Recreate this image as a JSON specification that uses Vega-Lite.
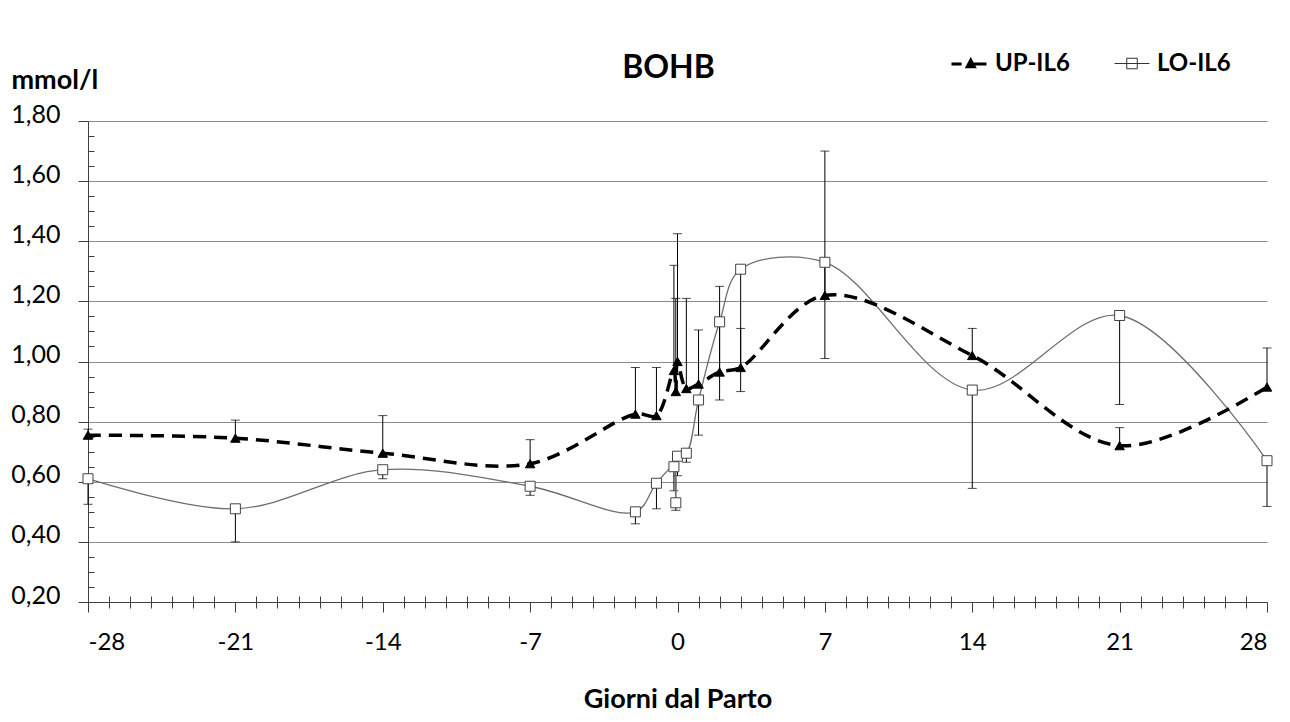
{
  "$schema": "https://vega.github.io/schema/vega-lite/v6.json",
  "width": 1179,
  "height": 481,
  "autosize": {"type": "none"},
  "padding": {"left": 88, "top": 121, "right": 23, "bottom": 120},
  "background": "white",
  "config": {
    "view": {"stroke": null},
    "font": "Lato",
    "axis": {"labelFont": "Lato", "titleFont": "Lato"}
  },
  "datasets": {
    "bohb": [
      {"series": "UP-IL6", "day": -28, "value": 0.755, "bar": 0.775},
      {"series": "UP-IL6", "day": -21, "value": 0.745, "bar": 0.805},
      {"series": "UP-IL6", "day": -14, "value": 0.695, "bar": 0.82},
      {"series": "UP-IL6", "day": -7, "value": 0.66, "bar": 0.74},
      {"series": "UP-IL6", "day": -2, "value": 0.825, "bar": 0.98},
      {"series": "UP-IL6", "day": -1, "value": 0.82, "bar": 0.98},
      {"series": "UP-IL6", "day": -0.17, "value": 0.97, "bar": 1.32},
      {"series": "UP-IL6", "day": -0.08, "value": 0.9, "bar": 1.21},
      {"series": "UP-IL6", "day": 0, "value": 1.0, "bar": 1.425},
      {"series": "UP-IL6", "day": 0.42, "value": 0.91, "bar": 1.21},
      {"series": "UP-IL6", "day": 1, "value": 0.925, "bar": 1.105},
      {"series": "UP-IL6", "day": 2, "value": 0.965, "bar": 1.25},
      {"series": "UP-IL6", "day": 3, "value": 0.98, "bar": 1.11},
      {"series": "UP-IL6", "day": 7, "value": 1.22, "bar": 1.7},
      {"series": "UP-IL6", "day": 14, "value": 1.02, "bar": 1.11},
      {"series": "UP-IL6", "day": 21, "value": 0.72, "bar": 0.78},
      {"series": "UP-IL6", "day": 28, "value": 0.915, "bar": 1.045},
      {"series": "LO-IL6", "day": -28, "value": 0.61, "bar": 0.525},
      {"series": "LO-IL6", "day": -21, "value": 0.51, "bar": 0.4},
      {"series": "LO-IL6", "day": -14, "value": 0.64, "bar": 0.61},
      {"series": "LO-IL6", "day": -7, "value": 0.585, "bar": 0.555},
      {"series": "LO-IL6", "day": -2, "value": 0.5, "bar": 0.46},
      {"series": "LO-IL6", "day": -1, "value": 0.595, "bar": 0.51},
      {"series": "LO-IL6", "day": -0.17, "value": 0.65, "bar": 0.57},
      {"series": "LO-IL6", "day": -0.08, "value": 0.53, "bar": 0.505},
      {"series": "LO-IL6", "day": 0, "value": 0.685, "bar": 0.62},
      {"series": "LO-IL6", "day": 0.42, "value": 0.695, "bar": 0.665},
      {"series": "LO-IL6", "day": 1, "value": 0.872, "bar": 0.755},
      {"series": "LO-IL6", "day": 2, "value": 1.132, "bar": 0.872},
      {"series": "LO-IL6", "day": 3, "value": 1.307, "bar": 0.9},
      {"series": "LO-IL6", "day": 7, "value": 1.33, "bar": 1.01},
      {"series": "LO-IL6", "day": 14, "value": 0.905, "bar": 0.578},
      {"series": "LO-IL6", "day": 21, "value": 1.153, "bar": 0.857},
      {"series": "LO-IL6", "day": 28, "value": 0.67, "bar": 0.518}
    ]
  },
  "data": {"name": "bohb"},
  "resolve": {"axis": {"x": "independent", "y": "independent"}},
  "layer": [
    {
      "transform": [{"filter": "datum.series === 'UP-IL6'"}],
      "mark": {"type": "rule", "color": "black", "strokeWidth": 1},
      "encoding": {
        "x": {
          "field": "day", "type": "quantitative",
          "scale": {"domain": [-28, 28], "nice": false, "zero": false},
          "axis": {
            "orient": "bottom",
            "values": [-28, -21, -14, -7, 0, 7, 14, 21, 28],
            "grid": false,
            "domainColor": "#404040",
            "tickColor": "#404040",
            "tickSize": 10,
            "labelFontSize": 24,
            "labelColor": "black",
            "labelPadding": 18,
            "labelExpr": "'' + datum.value",
            "title": "Giorni dal Parto",
            "titleFontSize": 27,
            "titleFontWeight": "bold",
            "titleColor": "black",
            "titlePadding": 32
          }
        },
        "y": {
          "field": "value", "type": "quantitative",
          "scale": {"domain": [0.2, 1.8], "nice": false, "zero": false},
          "axis": {
            "orient": "left",
            "values": [0.2, 0.4, 0.6, 0.8, 1.0, 1.2, 1.4, 1.6, 1.8],
            "grid": true,
            "gridColor": "#8c8c8c",
            "gridOpacity": 1,
            "domainColor": "#404040",
            "tickColor": "#404040",
            "tickSize": 10,
            "labelFontSize": 25,
            "labelColor": "black",
            "labelPadding": 18,
            "labelOffset": -7,
            "labelExpr": "replace(format(datum.value, '.2f'), '.', ',')",
            "title": "mmol/l",
            "titleFontSize": 27,
            "titleFontWeight": "bold",
            "titleColor": "black",
            "titleAngle": 0,
            "titleAlign": "left",
            "titleBaseline": "middle",
            "titleX": -77,
            "titleY": -41
          }
        },
        "y2": {"field": "bar"}
      }
    },
    {
      "transform": [{"filter": "datum.series === 'LO-IL6'"}],
      "mark": {"type": "rule", "color": "black", "strokeWidth": 1},
      "encoding": {
        "x": {
          "field": "day", "type": "quantitative",
          "axis": {
            "orient": "bottom",
            "values": [-27, -26, -25, -24, -23, -22, -20, -19, -18, -17, -16, -15, -13, -12, -11, -10, -9, -8, -6, -5, -4, -3, -2, -1, 1, 2, 3, 4, 5, 6, 8, 9, 10, 11, 12, 13, 15, 16, 17, 18, 19, 20, 22, 23, 24, 25, 26, 27],
            "grid": false, "domain": false, "labels": false, "title": null,
            "tickColor": "#404040", "tickSize": 6
          }
        },
        "y": {
          "field": "value", "type": "quantitative",
          "axis": {
            "orient": "left",
            "values": [0.25, 0.3, 0.35, 0.45, 0.5, 0.55, 0.65, 0.7, 0.75, 0.85, 0.9, 0.95, 1.05, 1.1, 1.15, 1.25, 1.3, 1.35, 1.45, 1.5, 1.55, 1.65, 1.7, 1.75],
            "grid": false, "domain": false, "labels": false, "title": null,
            "tickColor": "#404040", "tickSize": -6
          }
        },
        "y2": {"field": "bar"}
      }
    },
    {
      "mark": {"type": "tick", "orient": "horizontal", "color": "black", "thickness": 1, "size": 9},
      "encoding": {
        "x": {
          "field": "day", "type": "quantitative",
          "axis": {
            "orient": "bottom",
            "values": [-27, -26, -25, -24, -23, -22, -20, -19, -18, -17, -16, -15, -13, -12, -11, -10, -9, -8, -6, -5, -4, -3, -2, -1, 1, 2, 3, 4, 5, 6, 8, 9, 10, 11, 12, 13, 15, 16, 17, 18, 19, 20, 22, 23, 24, 25, 26, 27],
            "grid": false, "domain": false, "labels": false, "title": null,
            "tickColor": "#404040", "tickSize": -6
          }
        },
        "y": {"field": "bar", "type": "quantitative", "axis": null}
      }
    },
    {
      "transform": [{"filter": "datum.series === 'LO-IL6'"}],
      "mark": {"type": "line", "color": "#6e6e6e", "strokeWidth": 1.3, "interpolate": "catmull-rom"},
      "encoding": {
        "x": {
          "field": "day", "type": "quantitative",
          "axis": {
            "orient": "top",
            "grid": false, "domain": false, "labels": false, "ticks": false,
            "title": "BOHB",
            "titleFont": "Lato",
            "titleFontSize": 32,
            "titleFontWeight": "bold",
            "titleColor": "black",
            "titleAngle": 0,
            "titleAlign": "center",
            "titleBaseline": "middle",
            "titleX": 580,
            "titleY": -54
          }
        },
        "y": {"field": "value", "type": "quantitative", "axis": null}
      }
    },
    {
      "transform": [{"filter": "datum.series === 'UP-IL6'"}],
      "mark": {"type": "line", "color": "black", "strokeWidth": 3.5, "strokeDash": [13, 8], "interpolate": "catmull-rom"},
      "encoding": {
        "x": {"field": "day", "type": "quantitative", "axis": null},
        "y": {"field": "value", "type": "quantitative", "axis": null}
      }
    },
    {
      "mark": {"type": "point", "filled": false, "opacity": 1, "strokeWidth": 1},
      "encoding": {
        "x": {"field": "day", "type": "quantitative", "axis": null},
        "y": {"field": "value", "type": "quantitative", "axis": null},
        "shape": {"condition": {"test": "datum.series === 'UP-IL6'", "value": "triangle-up"}, "value": "square"},
        "fill": {"condition": {"test": "datum.series === 'UP-IL6'", "value": "black"}, "value": "white"},
        "stroke": {"condition": {"test": "datum.series === 'UP-IL6'", "value": "black"}, "value": "#444444"},
        "size": {"condition": {"test": "datum.series === 'UP-IL6'", "value": 90}, "value": 100}
      }
    },
    {
      "transform": [{"filter": "false"}],
      "mark": {"type": "point", "filled": false, "opacity": 1},
      "encoding": {
        "x": {"field": "day", "type": "quantitative", "axis": null},
        "y": {"field": "value", "type": "quantitative", "axis": null},
        "shape": {
          "field": "series", "type": "nominal",
          "scale": {
            "domain": ["UP-IL6", "LO-IL6"],
            "range": ["M-1,0H-0.42M0.27,0H1M-0.1,0.15L0.1,-0.22L0.3,0.15Z", "M-1,0H1M-0.3,-0.3H0.3V0.3H-0.3Z"]
          },
          "legend": {
            "orient": "none",
            "legendX": 862,
            "legendY": -76,
            "direction": "horizontal",
            "title": null,
            "labelFont": "Lato",
            "labelFontSize": 24,
            "labelFontWeight": "bold",
            "labelColor": "black",
            "labelOffset": 7,
            "columnPadding": 42,
            "symbolSize": 1225,
            "symbolOpacity": 1
          }
        },
        "fill": {
          "field": "series", "type": "nominal",
          "scale": {"domain": ["UP-IL6", "LO-IL6"], "range": ["black", "white"]}
        },
        "stroke": {
          "field": "series", "type": "nominal",
          "scale": {"domain": ["UP-IL6", "LO-IL6"], "range": ["black", "#333333"]}
        },
        "strokeWidth": {
          "field": "series", "type": "nominal",
          "scale": {"domain": ["UP-IL6", "LO-IL6"], "range": [3, 1]}
        }
      }
    }
  ]
}
